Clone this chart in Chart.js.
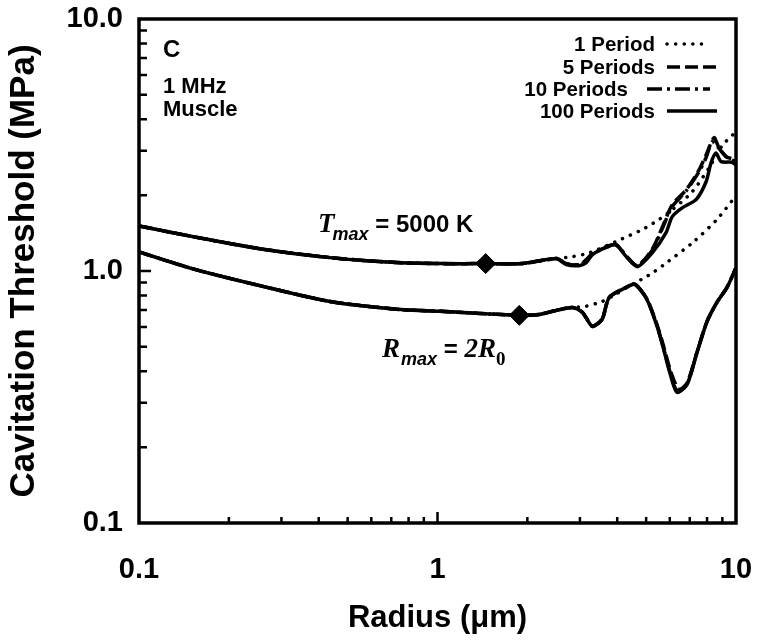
<!DOCTYPE html>
<html>
<head>
<meta charset="utf-8">
<script src="https://cdn.jsdelivr.net/npm/chart.js@4.4.1/dist/chart.umd.min.js"></script>
<style>
  html, body { margin: 0; padding: 0; background: #fff; }
  canvas { display: block; }
</style>
</head>
<body>
<canvas id="chart" width="761" height="643"></canvas>
<script>
// ---- data ----
const xTickValues = [0.1, 1, 10];
const xTickLabels = ['0.1', '1', '10'];
const yTickValues = [0.1, 1, 10];
const yTickLabels = ['0.1', '1.0', '10.0'];
const minorTickValues = [0.2, 0.3, 0.4, 0.5, 0.6, 0.7, 0.8, 0.9, 2, 3, 4, 5, 6, 7, 8, 9];

const seriesNames = ['1 Period', '5 Periods', '10 Periods', '100 Periods'];

// Tmax = 5000 K group
const radiusT1 = [0.1, 0.156, 0.26, 0.436, 0.73, 1.02, 1.45, 1.92, 2.5, 2.83, 3.22, 3.97, 4.85, 5.52, 6.11, 7.13, 8.13, 8.98, 10];
const thresholdT1 = [1.51, 1.36, 1.22, 1.13, 1.08, 1.07, 1.07, 1.07, 1.12, 1.14, 1.18, 1.31, 1.46, 1.60, 1.75, 2.06, 2.57, 3.14, 3.57];

const radiusT5 = [0.1, 0.156, 0.26, 0.436, 0.73, 1.02, 1.45, 1.92, 2.5, 2.7, 2.98, 3.15, 3.3, 3.67, 3.97, 4.29, 4.67, 5.24, 5.66, 6.11, 6.81, 7.52, 7.94, 8.44, 8.74, 9.27, 10];
const thresholdT5 = [1.51, 1.36, 1.22, 1.13, 1.08, 1.07, 1.07, 1.07, 1.12, 1.07, 1.06, 1.11, 1.17, 1.24, 1.27, 1.14, 1.05, 1.22, 1.49, 1.83, 2.10, 2.52, 2.89, 3.38, 3.11, 2.84, 2.77];

const radiusT10 = [0.1, 0.156, 0.26, 0.436, 0.73, 1.02, 1.45, 1.92, 2.5, 2.7, 2.98, 3.15, 3.3, 3.67, 3.97, 4.29, 4.67, 5.24, 5.66, 6.11, 6.81, 7.52, 7.94, 8.3, 8.6, 9.0, 9.5, 10];
const thresholdT10 = [1.51, 1.36, 1.22, 1.13, 1.08, 1.07, 1.07, 1.07, 1.12, 1.07, 1.06, 1.10, 1.17, 1.25, 1.27, 1.15, 1.05, 1.21, 1.47, 1.80, 2.08, 2.48, 2.82, 3.25, 3.15, 2.95, 2.78, 2.72];

const radiusT100 = [0.1, 0.156, 0.26, 0.436, 0.73, 1.02, 1.45, 1.92, 2.5, 2.7, 2.98, 3.15, 3.3, 3.67, 3.97, 4.29, 4.67, 5.24, 5.83, 6.11, 6.6, 7.35, 7.94, 8.25, 8.57, 8.91, 9.7, 10];
const thresholdT100 = [1.51, 1.36, 1.22, 1.13, 1.08, 1.07, 1.07, 1.07, 1.12, 1.06, 1.05, 1.08, 1.16, 1.24, 1.27, 1.14, 1.04, 1.18, 1.42, 1.64, 1.78, 1.92, 2.26, 2.69, 2.94, 2.72, 2.70, 2.64];

// Rmax = 2R0 group
const radiusR1 = [0.1, 0.156, 0.26, 0.436, 0.73, 1.02, 1.88, 2.19, 2.43, 2.83, 3.12, 3.56, 3.9, 4.3, 4.88, 5.27, 5.92, 7.18, 8.63, 9.77, 10];
const thresholdR1 = [1.19, 1.01, 0.869, 0.757, 0.705, 0.692, 0.667, 0.672, 0.692, 0.717, 0.723, 0.757, 0.80, 0.86, 0.933, 0.986, 1.09, 1.30, 1.60, 1.92, 1.99];

const radiusR5 = [0.1, 0.156, 0.26, 0.436, 0.73, 1.02, 1.88, 2.19, 2.43, 2.83, 3.06, 3.30, 3.56, 3.76, 4.29, 4.59, 5.03, 5.44, 5.69, 6.00, 6.34, 6.5, 6.86, 7.40, 8.0, 8.63, 9.33, 10];
const thresholdR5 = [1.19, 1.01, 0.869, 0.757, 0.705, 0.692, 0.667, 0.672, 0.692, 0.717, 0.685, 0.605, 0.645, 0.785, 0.861, 0.885, 0.775, 0.612, 0.515, 0.41, 0.345, 0.338, 0.36, 0.475, 0.631, 0.750, 0.861, 1.03];

const radiusR10 = [0.1, 0.156, 0.26, 0.436, 0.73, 1.02, 1.88, 2.19, 2.43, 2.83, 3.06, 3.30, 3.56, 3.76, 4.29, 4.59, 5.03, 5.44, 5.69, 6.00, 6.34, 6.86, 7.40, 8.0, 8.63, 9.33, 10];
const thresholdR10 = [1.19, 1.01, 0.869, 0.757, 0.705, 0.692, 0.667, 0.672, 0.692, 0.717, 0.685, 0.603, 0.643, 0.785, 0.861, 0.885, 0.771, 0.606, 0.505, 0.40, 0.336, 0.357, 0.475, 0.631, 0.750, 0.861, 1.03];

const radiusR100 = [0.1, 0.156, 0.26, 0.436, 0.73, 1.02, 1.88, 2.19, 2.43, 2.83, 3.06, 3.30, 3.56, 3.76, 4.29, 4.59, 5.03, 5.44, 5.69, 6.00, 6.34, 6.86, 7.40, 8.0, 8.63, 9.33, 10];
const thresholdR100 = [1.19, 1.01, 0.869, 0.757, 0.705, 0.692, 0.667, 0.672, 0.692, 0.717, 0.685, 0.603, 0.643, 0.785, 0.861, 0.885, 0.771, 0.603, 0.502, 0.396, 0.330, 0.355, 0.475, 0.631, 0.750, 0.861, 1.03];

// diamond markers
const markerRadius = [1.45, 1.88];
const markerThreshold = [1.07, 0.667];

// label anchors (data coords)
const tmaxLabelAt = { x: 0.398, y: 1.43 };
const rmaxLabelAt = { x: 0.652, y: 0.454 };

// ---- styles ----
const SANS = '"Liberation Sans", Arial, Helvetica, sans-serif';
const SERIF = '"Liberation Serif", "Times New Roman", serif';
const dashes = [[0.1, 8.5], [13, 5], [15, 5, 3, 5], []];
const LINE_W = 3.5;

function pts(xs, ys) { return xs.map((x, i) => ({ x, y: ys[i] })); }

function lineSet(name, i, xs, ys) {
  return {
    label: name,
    data: pts(xs, ys),
    borderColor: '#000',
    borderWidth: LINE_W,
    borderDash: dashes[i],
    borderCapStyle: i === 0 ? 'round' : 'butt',
    pointRadius: 0,
    tension: 0.25,
    fill: false
  };
}

const datasets = [
  lineSet(seriesNames[0], 0, radiusT1, thresholdT1),
  lineSet(seriesNames[1], 1, radiusT5, thresholdT5),
  lineSet(seriesNames[2], 2, radiusT10, thresholdT10),
  lineSet(seriesNames[3], 3, radiusT100, thresholdT100),
  lineSet(seriesNames[0], 0, radiusR1, thresholdR1),
  lineSet(seriesNames[1], 1, radiusR5, thresholdR5),
  lineSet(seriesNames[2], 2, radiusR10, thresholdR10),
  lineSet(seriesNames[3], 3, radiusR100, thresholdR100),
  {
    label: 'markers',
    data: pts(markerRadius, markerThreshold),
    showLine: false,
    pointStyle: 'rectRot',
    pointRadius: 10,
    pointBackgroundColor: '#000',
    pointBorderColor: '#000',
    pointBorderWidth: 1
  }
];

function drawRuns(ctx, x, y, runs) {
  ctx.textBaseline = 'alphabetic';
  ctx.textAlign = 'left';
  runs.forEach(r => {
    ctx.font = r.font;
    ctx.fillText(r.text, x + (r.dx || 0), y + (r.dy || 0));
    x += ctx.measureText(r.text).width + (r.dx || 0);
  });
}

const decorations = {
  id: 'decorations',
  afterDatasetsDraw(chart) {
    const { ctx, chartArea: a, scales } = chart;
    const xs = scales.x, ys = scales.y;
    ctx.save();
    ctx.strokeStyle = '#000';
    ctx.fillStyle = '#000';

    // inward ticks
    ctx.lineWidth = 2.5;
    ctx.beginPath();
    minorTickValues.forEach(v => {
      const px = xs.getPixelForValue(v);
      ctx.moveTo(px, a.bottom); ctx.lineTo(px, a.bottom - 6);
      const py = ys.getPixelForValue(v);
      ctx.moveTo(a.left, py); ctx.lineTo(a.left + 8, py);
    });
    const mx = xs.getPixelForValue(1);
    ctx.moveTo(mx, a.bottom); ctx.lineTo(mx, a.bottom - 11);
    const my = ys.getPixelForValue(1);
    ctx.moveTo(a.left, my); ctx.lineTo(a.left + 12, my);
    ctx.stroke();

    // frame
    ctx.lineWidth = 3.5;
    ctx.strokeRect(a.left, a.top, a.right - a.left, a.bottom - a.top);

    // panel text
    ctx.textAlign = 'left';
    ctx.textBaseline = 'alphabetic';
    ctx.font = 'bold 24px ' + SANS;
    ctx.fillText('C', a.left + 24, a.top + 38);
    ctx.font = 'bold 22px ' + SANS;
    ctx.fillText('1 MHz', a.left + 24, a.top + 74);
    ctx.fillText('Muscle', a.left + 24, a.top + 97);

    // legend
    const rows = [
      { text: seriesNames[0], right: 81, x0: 69, x1: 26, dy: 25 },
      { text: seriesNames[1], right: 81, x0: 69, x1: 19, dy: 48 },
      { text: seriesNames[2], right: 108, x0: 89, x1: 26, dy: 70 },
      { text: seriesNames[3], right: 81, x0: 69, x1: 19, dy: 92 }
    ];
    rows.forEach((r, i) => {
      const y = a.top + r.dy;
      ctx.font = 'bold 20.5px ' + SANS;
      ctx.textAlign = 'right';
      ctx.textBaseline = 'middle';
      ctx.fillText(r.text, a.right - r.right, y + 1);
      ctx.beginPath();
      ctx.setLineDash(dashes[i]);
      ctx.lineCap = i === 0 ? 'round' : 'butt';
      ctx.lineWidth = LINE_W;
      ctx.moveTo(a.right - r.x0, y);
      ctx.lineTo(a.right - r.x1, y);
      ctx.stroke();
    });
    ctx.setLineDash([]);
    ctx.lineCap = 'butt';

    // curve labels
    drawRuns(ctx, xs.getPixelForValue(tmaxLabelAt.x), ys.getPixelForValue(tmaxLabelAt.y), [
      { text: 'T', font: 'bold italic 27px ' + SERIF },
      { text: 'max', font: 'bold italic 18px ' + SANS, dy: 8, dx: -2 },
      { text: ' = 5000 K', font: 'bold 24px ' + SANS }
    ]);
    drawRuns(ctx, xs.getPixelForValue(rmaxLabelAt.x), ys.getPixelForValue(rmaxLabelAt.y), [
      { text: 'R', font: 'bold italic 27px ' + SERIF },
      { text: 'max', font: 'bold italic 18px ' + SANS, dy: 8, dx: 1 },
      { text: ' = ', font: 'bold 24px ' + SANS },
      { text: '2R', font: 'bold italic 27px ' + SERIF },
      { text: '0', font: 'bold 19px ' + SERIF, dy: 8 }
    ]);
    ctx.restore();
  }
};

new Chart(document.getElementById('chart'), {
  type: 'line',
  data: { datasets },
  options: {
    responsive: false,
    animation: false,
    devicePixelRatio: 1,
    layout: { padding: { top: 19, right: 25, left: 0, bottom: 0 } },
    plugins: { legend: { display: false }, tooltip: { enabled: false } },
    scales: {
      x: {
        type: 'logarithmic',
        position: 'bottom',
        min: 0.1,
        max: 10,
        grid: { display: false, drawTicks: false },
        border: { display: false },
        afterFit(s) { s.height = 120; s.paddingLeft = 0; s.paddingRight = 0; },
        afterBuildTicks(s) { s.ticks = xTickValues.map(v => ({ value: v })); },
        ticks: {
          autoSkip: false,
          maxRotation: 0,
          padding: 30,
          color: '#000',
          font: { family: SANS, size: 29, weight: 'bold' },
          callback: (v, i) => xTickLabels[i]
        },
        title: {
          display: true,
          text: 'Radius (\u03bcm)',
          color: '#000',
          font: { family: SANS, size: 31, weight: 'bold' },
          padding: { top: 0, bottom: 6 }
        }
      },
      y: {
        type: 'logarithmic',
        min: 0.1,
        max: 10,
        grid: { display: false, drawTicks: false },
        border: { display: false },
        afterFit(s) { s.width = 139; s.paddingTop = 0; s.paddingBottom = 0; },
        afterBuildTicks(s) { s.ticks = yTickValues.map(v => ({ value: v })); },
        ticks: {
          autoSkip: false,
          padding: 16,
          color: '#000',
          font: { family: SANS, size: 29, weight: 'bold' },
          callback: (v, i) => yTickLabels[i]
        },
        title: {
          display: true,
          text: 'Cavitation Threshold (MPa)',
          color: '#000',
          font: { family: SANS, size: 35, weight: 'bold' },
          padding: { top: 3, bottom: 0 }
        }
      }
    }
  },
  plugins: [decorations]
});
</script>
</body>
</html>
